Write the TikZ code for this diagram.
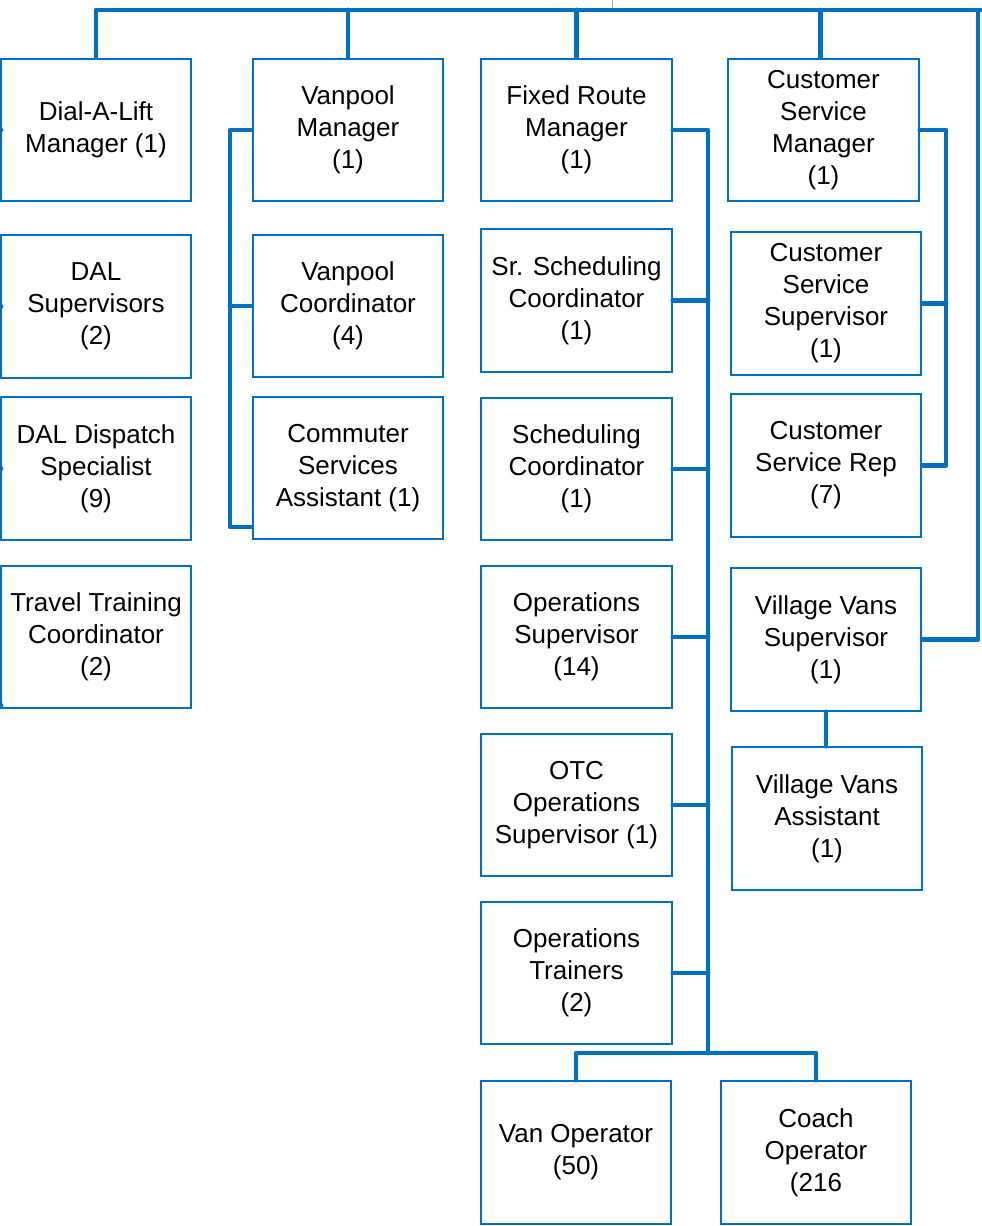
\documentclass[tikz,border=0pt]{standalone}
\usepackage{fontspec}
\setmainfont{Liberation Sans}
\usepackage{tikz}
\definecolor{orgblue}{HTML}{0070C0}
\definecolor{faintblue}{HTML}{8FAADC}

\begin{document}
\begin{tikzpicture}[x=0.75pt, y=-0.75pt, text=black,
	box/.style={draw=orgblue, line width=1.5pt, minimum width=143pt, minimum height=107pt, inner sep=0pt, align=center, font=\fontsize{19.5pt}{24pt}\selectfont},
	conn/.style={draw=orgblue, line width=3.6pt, line cap=round, line join=round}]
\useasboundingbox (0,0) rectangle (981,1226);
\def \dalx {96}
\def \vpx {348}
\def \frx {576.5}
\def \csx {826}

%Dial-A-Lift column
\node[box] (dal) at (\dalx,130) {Dial-A-Lift\\Manager (1)};
\node[box] (dalsup) at (\dalx,306.5) {DAL\\Supervisors\\(2)};
\node[box] (dalspec) at (\dalx,468.5) {DAL Dispatch\\Specialist\\(9)};
\node[box] (travel) at (\dalx,637) {Travel Training\\Coordinator\\(2)};

%Vanpool column
\node[box] (vpm) at (\vpx,130) {Vanpool\\Manager\\(1)};
\node[box] (vpc) at (\vpx,306) {Vanpool\\Coordinator\\(4)};
\node[box] (csa) at (\vpx,468) {Commuter\\Services\\Assistant (1)};

%Fixed route column
\node[box] (frm) at (\frx,130) {Fixed Route\\Manager\\(1)};
\node[box] (srs) at (\frx,300.5) {Sr. Scheduling\\Coordinator\\(1)};
\node[box] (sch) at (\frx,469) {Scheduling\\Coordinator\\(1)};
\node[box] (ops) at (\frx,637) {Operations\\Supervisor\\(14)};
\node[box] (otc) at (\frx,805) {OTC\\Operations\\Supervisor (1)};
\node[box] (trn) at (\frx,973) {Operations\\Trainers\\(2)};
\node[box] (van) at (576,1152.5) {Van Operator\\(50)};
\node[box] (coach) at (816,1152.5) {Coach\\Operator\\(216};

%Customer service column
\node[box] (csm) at (823.5,130) {Customer\\Service\\Manager\\(1)};
\node[box] (css) at (\csx,303.5) {Customer\\Service\\Supervisor\\(1)};
\node[box] (csr) at (\csx,465.5) {Customer\\Service Rep\\(7)};
\node[box] (vvs) at (\csx,639.5) {Village Vans\\Supervisor\\(1)};
\node[box] (vva) at (827,818.5) {Village Vans\\Assistant\\(1)};

%Bars
\coordinate (topin) at (612,0);
\coordinate (busR) at (978,10);
\coordinate (dalbar) at (-6,0);
\coordinate (vpbar) at (230,0);
\coordinate (frbar) at (708,1053);
\coordinate (csbar) at (946,0);

%Top bus
\draw[faintblue, line width=0.75pt] (topin) -- (topin |- busR);
\draw[conn] (dal.north) |- (busR) |- (vvs.east);
\draw[conn] (busR) -- ++(10,0);
\foreach \n in {vpm,frm}
	\draw[conn] (\n.north) -- (\n.north |- busR);
\draw[conn] ([xshift=-2.5pt]csm.north) -- ([xshift=-2.5pt]csm.north |- busR);

%Dial-A-Lift links (cut off at left)
\foreach \n in {dal,dalsup,dalspec}
	\draw[conn] ([xshift=1pt]\n.west) -- (\n.west -| dalbar);
\draw[conn] ([xshift=1pt,yshift=3pt]travel.south west) -- ([yshift=3pt]travel.south west -| dalbar);

%Vanpool bracket
\draw[conn] (vpm.west) -- (vpm.west -| vpbar) |- ([yshift=10pt]csa.south west);
\draw[conn] (vpc.west) -- (vpc.west -| vpbar);

%Fixed route trunk
\draw[conn] (frm.east) -| (frbar);
\foreach \n in {srs,sch,ops,otc,trn}
	\draw[conn] (\n.east) -- (\n.east -| frbar);
\draw[conn] (van.north) |- (frbar);
\draw[conn] (coach.north) |- (frbar);

%Customer service bracket
\draw[conn] (csm.east) -- (csm.east -| csbar) |- (csr.east);
\draw[conn] (css.east) -- (css.east -| csbar);
\draw[conn] (vvs.south) -- (vvs.south |- vva.north);

\end{tikzpicture}
\end{document}
